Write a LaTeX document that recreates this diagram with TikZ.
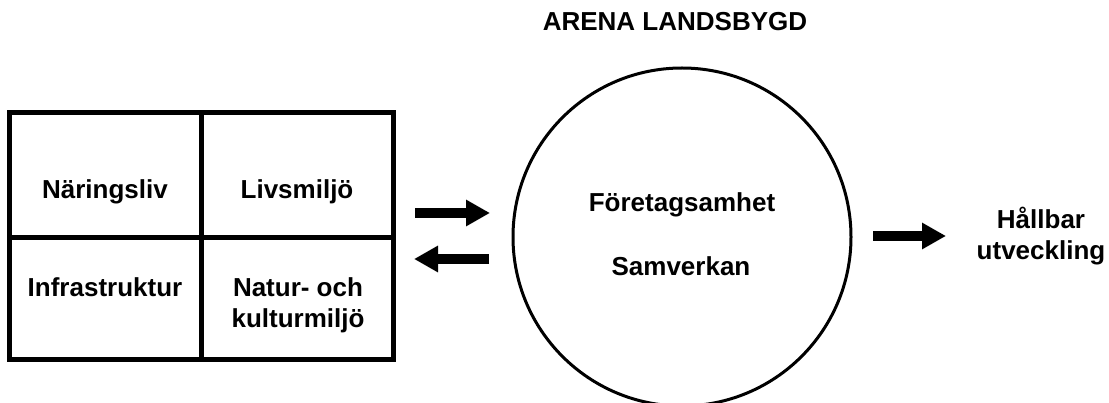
\documentclass[tikz,border=0pt]{standalone}
\usepackage{fontspec}
\setmainfont{Liberation Sans}
\usetikzlibrary{arrows.meta}
\begin{document}
\begin{tikzpicture}[x=1pt,y=-1pt,
  lbl/.style={font=\fontsize{26}{31}\selectfont\bfseries, inner sep=0pt, align=center},
  grid/.style={line width=5pt, line cap=rect},
  bigarrow/.style={line width=10pt, -{Triangle[length=24pt,width=25pt]}}]
\useasboundingbox (0,0) rectangle (1109,403);
% grid box
\draw[grid] (9.5,112.5) rectangle (393.5,359.5);
\draw[grid] (201.5,112.5) -- (201.5,359.5);
\draw[grid] (9.5,238) -- (393.5,238);
\node[lbl] (nar) at (105,192) {Näringsliv};
\node[lbl] (liv) at (297,192) {Livsmiljö};
\node[lbl] (inf) at (105,287) {Infrastruktur};
\node[lbl] (nat) at (298,305) {Natur- och\\kulturmiljö};
% circle
\node[draw, circle, line width=3pt, minimum size=338pt, inner sep=0pt] (arena) at (682,237) {};
\node[lbl] (title) at (675,22) {ARENA LANDSBYGD};
\node[lbl] (fore) at (682,205) {Företagsamhet};
\node[lbl] (sam) at (681,266) {Samverkan};
% arrows
\coordinate (r1) at (415,213); \coordinate (r2) at (490,213);
\coordinate (l1) at (489,259); \coordinate (l2) at (414,259);
\draw[bigarrow] (r1) -- (r2);
\draw[bigarrow] (l1) -- (l2);
\coordinate (h1) at (873,236); \coordinate (h2) at (946,236);
\draw[bigarrow] (h1) -- (h2);
\node[lbl] (hall) at (1041,236) {Hållbar\\utveckling};
\end{tikzpicture}
\end{document}
